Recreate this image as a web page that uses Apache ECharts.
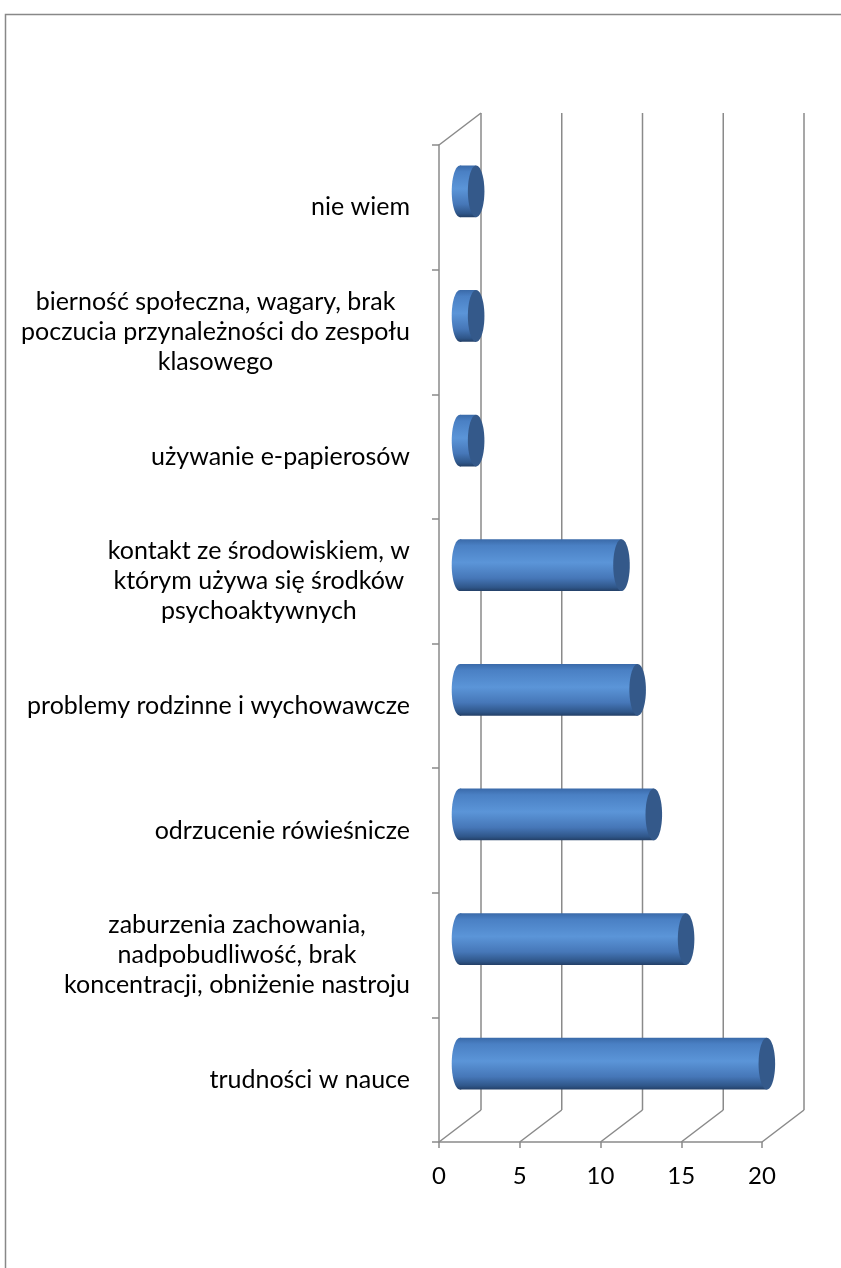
<!DOCTYPE html>
<html>
<head>
<meta charset="utf-8">
<script src="https://cdn.jsdelivr.net/npm/echarts@6/dist/echarts.min.js"></script>
<style>
  html, body { margin: 0; padding: 0; background: #fff; }
  #chart { width: 841px; height: 1268px; }
</style>
</head>
<body>
<div id="chart"></div>
<script>
// categories top to bottom
var categories = [
    'nie wiem',
    'bierność społeczna, wagary, brak\npoczucia przynależności do zespołu\nklasowego',
    'używanie e-papierosów',
    'kontakt ze środowiskiem, w\nktórym używa się środków\npsychoaktywnych',
    'problemy rodzinne i wychowawcze',
    'odrzucenie rówieśnicze',
    'zaburzenia zachowania,\nnadpobudliwość, brak\nkoncentracji, obniżenie nastroju',
    'trudności w nauce'
];
var values = [1, 1, 1, 10, 11, 12, 14, 19];
var xTicks = [0, 5, 10, 15, 20];

var DX = 42, DY = -32;   // głębokość 3D
var lineColor = '#8a8a8a';
var font = 'Lato';

var myChart = echarts.init(document.getElementById('chart'));

var option = {
    animation: false,
    grid: {
        left: 439,
        right: 79,
        top: 145,
        bottom: 126
    },
    graphic: [{
        type: 'rect',
        shape: { x: 5.5, y: 14.5, width: 900, height: 1400 },
        style: { fill: 'none', stroke: '#888', lineWidth: 1.5 },
        silent: true
    }],
    xAxis: {
        type: 'value',
        min: 0,
        max: 20,
        interval: 5,
        axisLine: { show: true, lineStyle: { color: lineColor, width: 1.5 } },
        axisTick: { show: true, length: 6, lineStyle: { color: lineColor, width: 1.5 } },
        axisLabel: { color: '#000', fontFamily: font, fontSize: 24, margin: 22 },
        splitLine: { show: false }
    },
    yAxis: {
        type: 'category',
        inverse: true,
        data: categories,
        axisLine: { show: true, lineStyle: { color: lineColor, width: 1.5 } },
        axisTick: { show: true, length: 7, lineStyle: { color: lineColor, width: 1.5 } },
        axisLabel: {
            color: '#000',
            fontFamily: font,
            fontSize: 25,
            lineHeight: 30,
            margin: 29,
            align: 'right',
            formatter: function (v) {
                return v.split('\n').map(function (s) { return '{c|' + s + '}'; }).join('\n');
            },
            rich: {
                c: { align: 'center', fontFamily: font, fontSize: 25, lineHeight: 30, color: '#000' }
            }
        }
    },
    series: [{
        // tylna ściana i podłoga
        type: 'custom',
        silent: true,
        data: xTicks,
        encode: { x: 0 },
        renderItem: function (params, api) {
            var cs = params.coordSys;
            var x = api.coord([api.value(0), 0])[0];
            var bottom = cs.y + cs.height;
            var st = { stroke: lineColor, lineWidth: 1.5, fill: null };
            var children = [{
                type: 'line',
                shape: { x1: x + DX, y1: cs.y + DY, x2: x + DX, y2: bottom + DY },
                style: st
            }, {
                type: 'line',
                shape: { x1: x, y1: bottom, x2: x + DX, y2: bottom + DY },
                style: st
            }];
            if (params.dataIndex === 0) {
                children.push({
                    type: 'line',
                    shape: { x1: x, y1: cs.y, x2: x + DX, y2: cs.y + DY },
                    style: st
                });
            }
            return { type: 'group', children: children };
        }
    }, {
        // walce
        type: 'custom',
        data: values.map(function (v, i) { return [v, i]; }),
        encode: { x: 0, y: 1 },
        renderItem: function (params, api) {
            var idx = api.value(1);
            var p0 = api.coord([0, idx]);
            var p1 = api.coord([api.value(0), idx]);
            var h = api.size([0, 1])[1] * 0.415;
            var cx0 = p0[0] + DX / 2, cx1 = p1[0] + DX / 2, cy = p0[1] + DY / 2;
            var rx = h * 0.16;
            var body = new echarts.graphic.LinearGradient(0, 0, 0, 1, [
                { offset: 0, color: '#3a6aa9' },
                { offset: 0.12, color: '#4a80c4' },
                { offset: 0.45, color: '#5b95d8' },
                { offset: 0.75, color: '#4677b8' },
                { offset: 0.93, color: '#2f5689' },
                { offset: 1, color: '#233f66' }
            ]);
            return {
                type: 'group',
                children: [{
                    type: 'ellipse',
                    shape: { cx: cx0, cy: cy, rx: rx, ry: h / 2 },
                    style: { fill: body }
                }, {
                    type: 'rect',
                    shape: { x: cx0, y: cy - h / 2, width: cx1 - cx0, height: h },
                    style: { fill: body }
                }, {
                    type: 'ellipse',
                    shape: { cx: cx1, cy: cy, rx: rx, ry: h / 2 },
                    style: { fill: '#34598a' }
                }]
            };
        }
    }]
};

myChart.setOption(option);
</script>
</body>
</html>
